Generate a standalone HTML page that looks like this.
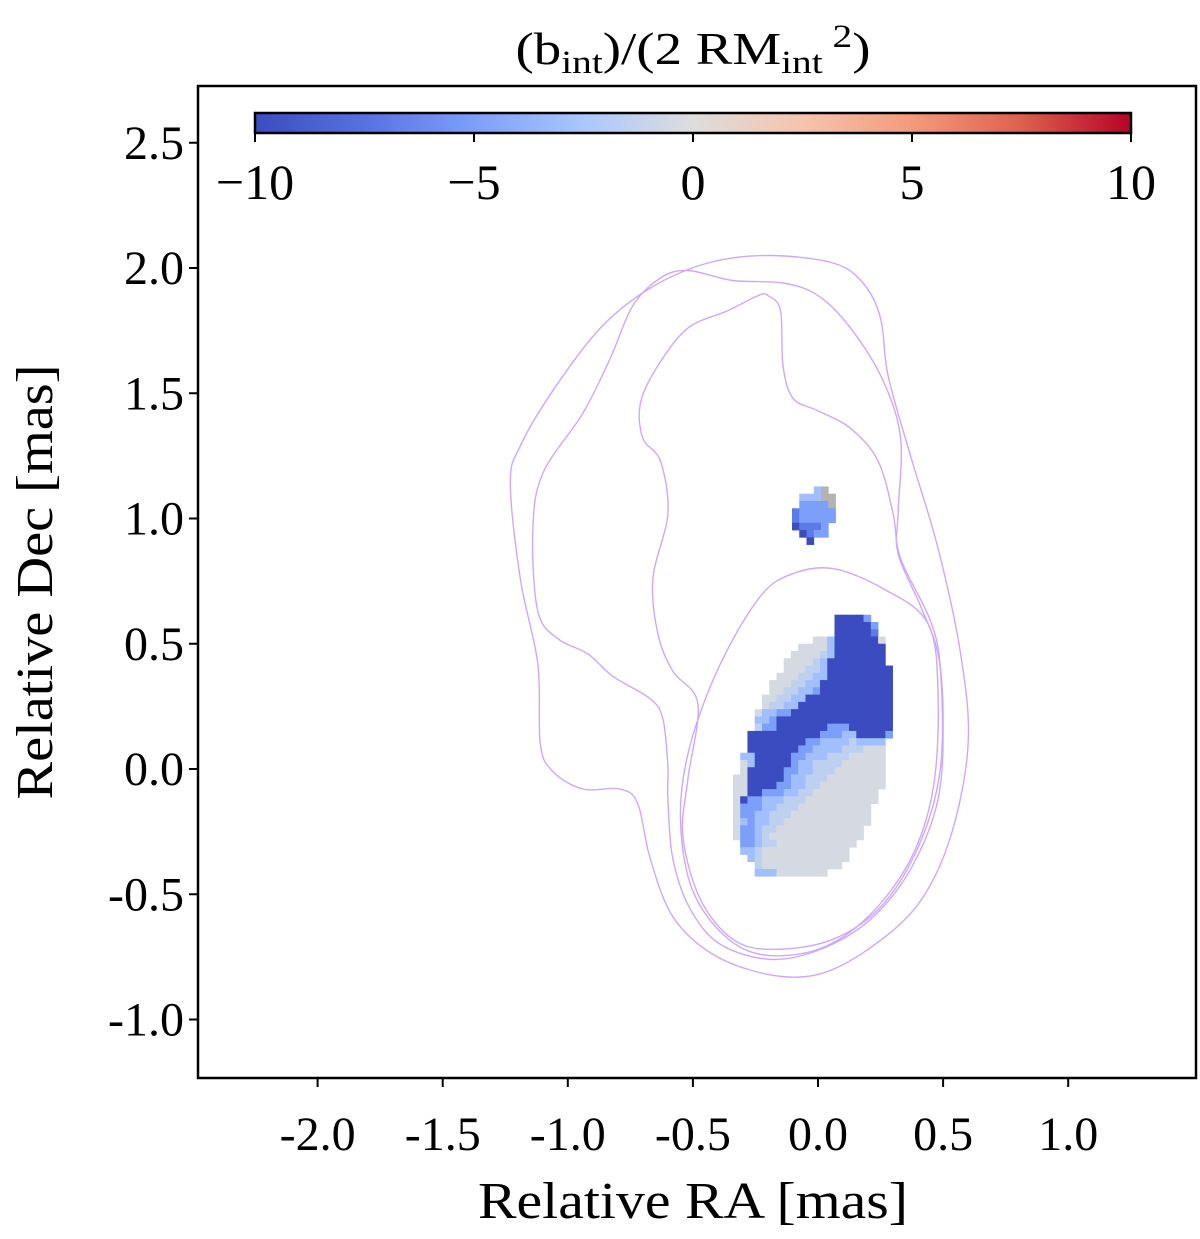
<!DOCTYPE html>
<html><head><meta charset="utf-8">
<style>
html,body{margin:0;padding:0;background:#fff;}
svg{display:block;font-family:"Liberation Serif","DejaVu Serif",serif;}
</style></head>
<body>
<svg id="chart" width="1200" height="1239" viewBox="0 0 1200 1239" xmlns="http://www.w3.org/2000/svg">
<g id="heat"></g>
<g id="contours"></g>
<rect x="198" y="86" width="998" height="992" fill="none" stroke="#000" stroke-width="2.5"/>
<g id="axes"></g>
<g id="cbar"></g>
<text x="693" y="64" font-size="46" text-anchor="middle" textLength="355" lengthAdjust="spacingAndGlyphs">(b<tspan font-size="33" dy="9">int</tspan><tspan dy="-9">)/(2 RM</tspan><tspan font-size="33" dy="9">int</tspan><tspan font-size="33" dy="-26"> 2</tspan><tspan dy="17">)</tspan></text>
<text x="693" y="1218" font-size="52" text-anchor="middle" textLength="430" lengthAdjust="spacingAndGlyphs">Relative RA [mas]</text>
<text x="0" y="0" font-size="52" text-anchor="middle" textLength="435" lengthAdjust="spacingAndGlyphs" transform="translate(52,582) rotate(-90)">Relative Dec [mas]</text>
</svg>
<script>
const xTicks=[-2.0,-1.5,-1.0,-0.5,0.0,0.5,1.0];
const xTickLabels=["-2.0","-1.5","-1.0","-0.5","0.0","0.5","1.0"];
const yTicks=[2.5,2.0,1.5,1.0,0.5,0.0,-0.5,-1.0];
const yTickLabels=["2.5","2.0","1.5","1.0","0.5","0.0","-0.5","-1.0"];
const cbarTicks=[-10,-5,0,5,10];
const cbarTickLabels=["\u221210","\u22125","0","5","10"];
const cellSize=0.029;
const mainBlobOrigin=[-0.34,0.616];
const mainBlobRows=[
"..............XXXX5....",
"..............XXXXX5...",
"..............XXXXX7...",
"...........gg3XXXXXXg..",
".........gggg3XXXXXXX..",
"........gggg13XXXXXXX..",
".......gggg13XXXXXXXX..",
".......ggg113XXXXXXXXX.",
"......ggg1133XXXXXXXXX.",
".....ggg1133XXXXXXXXXX.",
".....gg11335XXXXXXXXXX.",
"....gg1133XXXXXXXXXXXX.",
"....g1133XXXXXXXXXXXXX.",
"...g3355XXXXXXXXXXXXXX.",
"...335XXXXXXXXXXXXXXXX.",
"...155XXXXXXX555XXXXXX.",
"..XXXXXXXXXX55533XXXX5.",
"..XXXXXXXX55333313333..",
"..XXXXXXX553333111ggg..",
".33XXXXX55333111ggggg..",
".g3XXXXX5331111gggggg..",
".gXXXXX5533111ggggggg..",
"ggXXXXX533111gggggggg..",
"ggXXXX553311ggggggggg..",
"ggXX5553311ggggggggg...",
"gX55333111gggggggggg...",
"g55533111gggggggggg....",
"g5533111ggggggggggg....",
"g353311gggggggggggg....",
"g55311gggggggggggg.....",
"g5531ggggggggggggg.....",
".55311ggggggggggg......",
".331gggggggggggg.......",
"..31gggggggggggg.......",
"...1ggggggggggg........",
"...333ggggggg.........."
];
const smallBlobOrigin=[-0.104,1.128];
const smallBlobRows=[
"...3n.",
".333nn",
".5555n",
"755555",
"755555",
"X7775.",
".X755.",
"..X..."
];
const charValues={"X":-10,"7":-7,"5":-5,"3":-3,"1":-1.5,"g":-0.4};
const contourA=[[-1.23,1.14],[-1.19,0.76],[-1.12,0.42],[-1.11,0.10],[-1.06,-0.01],[-0.94,-0.08],[-0.79,-0.08],[-0.72,-0.14],[-0.67,-0.36],[-0.58,-0.59],[-0.42,-0.74],[-0.20,-0.82],[0.00,-0.82],[0.20,-0.72],[0.40,-0.54],[0.53,-0.27],[0.60,0.10],[0.57,0.46],[0.48,0.88],[0.37,1.25],[0.28,1.57],[0.25,1.80],[0.18,1.94],[0.06,2.02],[-0.20,2.05],[-0.44,2.02],[-0.67,1.92],[-0.87,1.76],[-1.06,1.51],[-1.19,1.29]];
const contourB=[[-0.63,1.96],[-0.52,1.99],[-0.34,1.95],[-0.14,1.94],[0.00,1.89],[0.13,1.76],[0.26,1.55],[0.33,1.32],[0.32,1.02],[0.32,0.86],[0.41,0.65],[0.48,0.46],[0.50,0.20],[0.48,-0.12],[0.37,-0.40],[0.21,-0.60],[0.01,-0.72],[-0.19,-0.76],[-0.39,-0.70],[-0.51,-0.56],[-0.58,-0.36],[-0.60,-0.12],[-0.60,0.01],[-0.62,0.20],[-0.67,0.28],[-0.82,0.37],[-0.92,0.46],[-1.04,0.52],[-1.12,0.63],[-1.14,0.95],[-1.10,1.18],[-0.94,1.42],[-0.83,1.64],[-0.74,1.85]];
const contourC=[[-0.20,1.89],[-0.15,1.83],[-0.14,1.61],[-0.10,1.48],[0.00,1.43],[0.13,1.36],[0.24,1.23],[0.30,1.02],[0.33,0.84],[0.45,0.59],[0.49,0.39],[0.49,0.01],[0.41,-0.29],[0.26,-0.54],[0.06,-0.68],[-0.18,-0.72],[-0.34,-0.68],[-0.47,-0.52],[-0.54,-0.27],[-0.52,-0.04],[-0.48,0.26],[-0.58,0.39],[-0.64,0.54],[-0.66,0.76],[-0.60,1.02],[-0.63,1.23],[-0.70,1.32],[-0.71,1.46],[-0.64,1.61],[-0.52,1.76],[-0.36,1.83],[-0.24,1.89]];
const contourD=[[0.06,0.80],[0.26,0.72],[0.44,0.58],[0.48,0.29],[0.46,-0.08],[0.37,-0.36],[0.20,-0.59],[0.00,-0.72],[-0.23,-0.74],[-0.39,-0.65],[-0.51,-0.46],[-0.55,-0.18],[-0.51,0.10],[-0.39,0.42],[-0.23,0.69],[-0.10,0.78]];

const NS="http://www.w3.org/2000/svg";
const X=v=>818+v*250.2;
const Y=v=>769-v*250.5;
const CB=v=>255+(v+10)/20*876;
const stops=[[0,[59,76,192]],[0.125,[85,114,227]],[0.25,[124,159,249]],[0.375,[170,199,253]],[0.5,[221,221,221]],[0.625,[245,196,173]],[0.75,[244,154,123]],[0.875,[222,96,77]],[1,[180,4,38]]];
function cmap(v){let t=Math.max(0,Math.min(1,(v+10)/20));
 for(let i=1;i<stops.length;i++){if(t<=stops[i][0]){const a=stops[i-1],b=stops[i];const f=(t-a[0])/(b[0]-a[0]);
  return "rgb("+a[1].map((c,k)=>Math.round(c+(b[1][k]-c)*f)).join(",")+")";}}
 return "rgb(180,4,38)";}
function mk(tag,attrs,parent){const e=document.createElementNS(NS,tag);for(const k in attrs)e.setAttribute(k,attrs[k]);parent.appendChild(e);return e;}

const heat=document.getElementById('heat');
function drawBlob(rows,origin,name){
 rows.forEach((row,r)=>{for(let c=0;c<row.length;c++){const ch=row[c];if(ch===".")continue;
  const x0=origin[0]+c*cellSize, y0=origin[1]-r*cellSize;
  const fill=ch==="n"?"#b3b3b3":cmap(charValues[ch]);
  const px=X(x0), py=Y(y0);
  const e=mk('rect',{x:px.toFixed(2),y:py.toFixed(2),width:(X(x0+cellSize)-px+0.4).toFixed(2),height:(Y(y0-cellSize)-py+0.4).toFixed(2),fill:fill},heat);
  
  
 }});
}
drawBlob(mainBlobRows,mainBlobOrigin,'core-rm');
drawBlob(smallBlobRows,smallBlobOrigin,'knot-rm');

const cg=document.getElementById('contours');
function smooth(pts){const p=pts.map(q=>[X(q[0]),Y(q[1])]);const n=p.length;let d="M"+p[0][0].toFixed(1)+","+p[0][1].toFixed(1);
 for(let i=0;i<n;i++){const p0=p[(i-1+n)%n],p1=p[i],p2=p[(i+1)%n],p3=p[(i+2)%n];
  const c1=[p1[0]+(p2[0]-p0[0])/6,p1[1]+(p2[1]-p0[1])/6],c2=[p2[0]-(p3[0]-p1[0])/6,p2[1]-(p3[1]-p1[1])/6];
  d+=" C"+c1.map(v=>v.toFixed(1))+" "+c2.map(v=>v.toFixed(1))+" "+p2.map(v=>v.toFixed(1));}
 return d+"Z";}
[[contourA,'contour-outer'],[contourB,'contour-middle'],[contourC,'contour-inner'],[contourD,'contour-core']].forEach(([pts,nm])=>{
 const e=mk('path',{d:smooth(pts),fill:"none",stroke:"#cda8fa","stroke-width":1.4},cg);
 
 
});

const ax=document.getElementById('axes');
xTicks.forEach((v,i)=>{
 const t=mk('line',{x1:X(v),x2:X(v),y1:1078,y2:1087,stroke:"#000","stroke-width":2},ax);
 
 
 const l=mk('text',{x:X(v),y:1150,"font-size":48,"text-anchor":"middle"},ax);l.textContent=xTickLabels[i];
 
 
});
yTicks.forEach((v,i)=>{
 const t=mk('line',{x1:189,x2:198,y1:Y(v),y2:Y(v),stroke:"#000","stroke-width":2},ax);
 
 
 const l=mk('text',{x:184,y:Y(v)+16,"font-size":48,"text-anchor":"end"},ax);l.textContent=yTickLabels[i];
 
 
});

const cb=document.getElementById('cbar');
const defs=mk('defs',{},cb);
const grad=mk('linearGradient',{id:"cw",x1:"0",x2:"1",y1:"0",y2:"0"},defs);
stops.forEach(s=>mk('stop',{offset:s[0],"stop-color":"rgb("+s[1].join(",")+")"},grad));
const bar=mk('rect',{x:CB(-10),y:113,width:CB(10)-CB(-10),height:20,fill:"url(#cw)",stroke:"#000","stroke-width":2.5},cb);


cbarTicks.forEach((v,i)=>{
 const t=mk('line',{x1:CB(v),x2:CB(v),y1:133,y2:142,stroke:"#000","stroke-width":2},cb);
 
 
 const l=mk('text',{x:CB(v),y:199,"font-size":50,"text-anchor":"middle"},cb);l.textContent=cbarTickLabels[i];
 
 
});
</script>
</body></html>
